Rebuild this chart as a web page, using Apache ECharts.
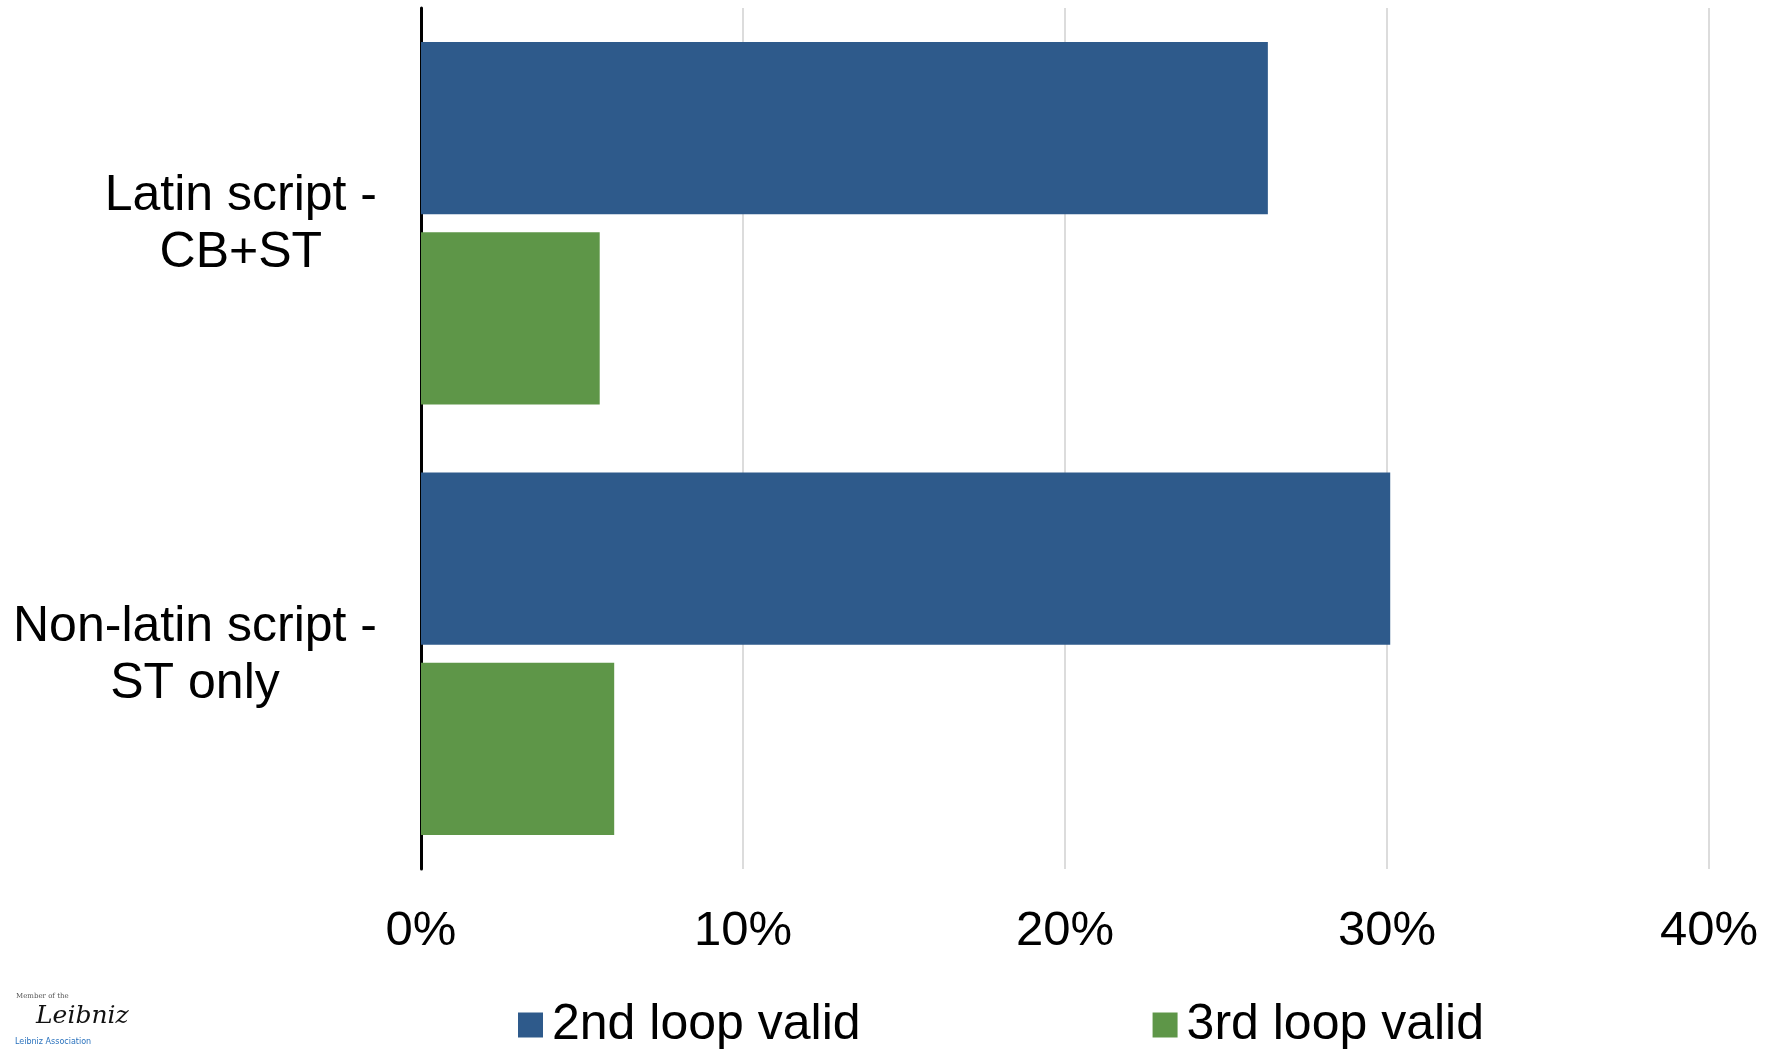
<!DOCTYPE html>
<html>
<head>
<meta charset="utf-8">
<title>Loop validity by script</title>
<script src="https://cdn.jsdelivr.net/npm/echarts@6/dist/echarts.min.js"></script>
<style>
  html, body { margin: 0; padding: 0; background: #fff; }
  #chart { width: 1775px; height: 1049px; }
</style>
</head>
<body>
<div id="chart"></div>
<script>
// categories and values (shares, in %)
const categories = ['Latin script -\nCB+ST', 'Non-latin script -\nST only'];
const seriesNames = ['2nd loop valid', '3rd loop valid'];
const secondLoop = [26.3, 30.1];
const thirdLoop = [5.55, 6.0];
const xTicks = [0, 10, 20, 30, 40];

const colors = ['#2E5A8B', '#5E9648'];
const font = '"Liberation Sans", Arial, sans-serif';

const chart = echarts.init(document.getElementById('chart'));

const option = {
  animation: false,
  textStyle: { fontFamily: font },
  grid: { left: 421, right: 66, top: 8, bottom: 180 },
  legend: {
    left: 518,
    top: 1000,
    padding: 0,
    itemWidth: 25,
    itemHeight: 25,
    itemGap: 292,
    icon: 'rect',
    textStyle: { fontSize: 50, color: '#000', fontFamily: font, padding: [0, 0, 0, 4] },
    data: seriesNames
  },
  xAxis: {
    type: 'value',
    min: xTicks[0],
    max: xTicks[xTicks.length - 1],
    interval: 10,
    axisLine: { show: false },
    axisTick: { show: false },
    splitLine: { lineStyle: { color: '#d0d0d0', width: 1.5 } },
    axisLabel: {
      fontSize: 49,
      color: '#000',
      margin: 38,
      formatter: v => v + '%'
    }
  },
  yAxis: {
    type: 'category',
    inverse: true,
    data: categories,
    axisLine: { lineStyle: { color: '#000', width: 3 } },
    axisTick: { show: false },
    axisLabel: {
      fontSize: 50,
      color: '#000',
      margin: 44,
      align: 'right',
      formatter: v => v.split('\n').map(s => '{c|' + s + '}').join('\n'),
      rich: {
        c: { fontSize: 50, color: '#000', align: 'center', lineHeight: 57, fontFamily: font, padding: [3, 0, 0, 0] }
      }
    }
  },
  series: [
    {
      name: seriesNames[0],
      type: 'bar',
      data: secondLoop,
      barWidth: '40%',
      barGap: '10.5%',
      itemStyle: { color: colors[0] }
    },
    {
      name: seriesNames[1],
      type: 'bar',
      data: thirdLoop,
      barWidth: '40%',
      itemStyle: { color: colors[1] }
    }
  ],
  graphic: [
    { type: 'text', left: 16, top: 993, style: { text: 'Member of the', font: '7px "DejaVu Serif", serif', fill: '#555' } },
    { type: 'text', left: 36, top: 1004, style: { text: 'Leibniz', font: 'italic 25px "DejaVu Serif", serif', fill: '#111' } },
    { type: 'text', left: 15, top: 1038, style: { text: 'Leibniz Association', font: '8px "DejaVu Sans", sans-serif', fill: '#2a72bd' } }
  ]
};

chart.setOption(option);
</script>
</body>
</html>
